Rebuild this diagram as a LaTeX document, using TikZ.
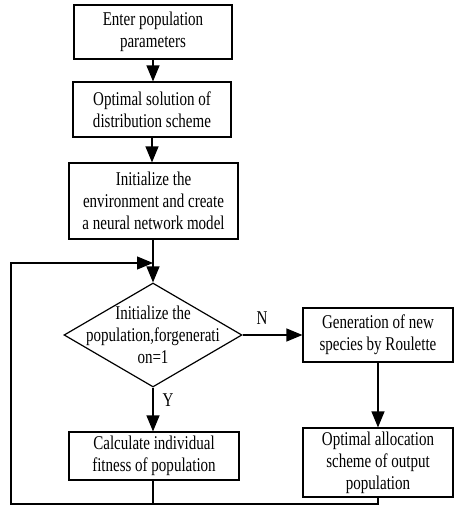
\documentclass[tikz,border=0pt]{standalone}
\usepackage{fontspec}
\setmainfont{Liberation Serif}[FakeStretch=0.77]
\usetikzlibrary{shapes.geometric,arrows.meta}
\begin{document}
\begin{tikzpicture}[x=1pt,y=-1pt,
  box/.style={draw,line width=1.2pt,inner sep=0pt,align=center,font=\fontsize{19.5}{22}\selectfont},
  arr/.style={line width=1.2pt,-{Triangle[length=16pt,width=13pt]}},
  ln/.style={line width=1.2pt},
  lab/.style={font=\fontsize{19.5}{22}\selectfont}]
\fill[white] (0,0) rectangle (454,506);
\useasboundingbox (0,0) rectangle (454,506);
\node[box,minimum width=158pt,minimum height=54pt] (enter) at (153,32) {Enter population\\parameters};
\node[box,minimum width=158pt,minimum height=55pt] (opt) at (152,109.5) {Optimal solution of\\distribution scheme};
\node[box,minimum width=169pt,minimum height=76pt] (init) at (153.5,201) {Initialize the\\environment and create\\a neural network model};
\node[diamond,draw,line width=1.2pt,inner sep=0pt,minimum width=178pt,minimum height=104pt] (dia) at (153,335) {};
\node[lab,align=center] (diatext) at (153,335) {Initialize the\\population,forgenerati\\on=1};
\node[box,minimum width=150pt,minimum height=54pt] (gen) at (378,335) {Generation of new\\species by Roulette};
\node[box,minimum width=150pt,minimum height=69pt] (out) at (378,462.5) {Optimal allocation\\scheme of output\\population};
\node[box,minimum width=170pt,minimum height=48pt] (calc) at (154,456) {Calculate individual\\fitness of population};
\node[lab] (N) at (262,318) {N};
\node[lab] (Y) at (168,400) {Y};
\coordinate (lb) at (11,504);
\coordinate (m) at (153,263);
\draw[arr] (enter.south) -- (opt.north -| enter.south);
\draw[arr] (opt.south) -- (init.north -| opt.south);
\draw[arr] (init.south -| dia.north) -- (dia.north);
\draw[arr] (dia.east) -- (gen.west);
\draw[arr] (dia.south) -- (calc.north -| dia.south);
\draw[arr] (gen.south) -- (out.north);
\draw[ln] (calc.south -| dia.south) -- (lb -| dia.south);
\draw[arr] (out.south) |- (lb) |- (m);
\end{tikzpicture}
\end{document}
